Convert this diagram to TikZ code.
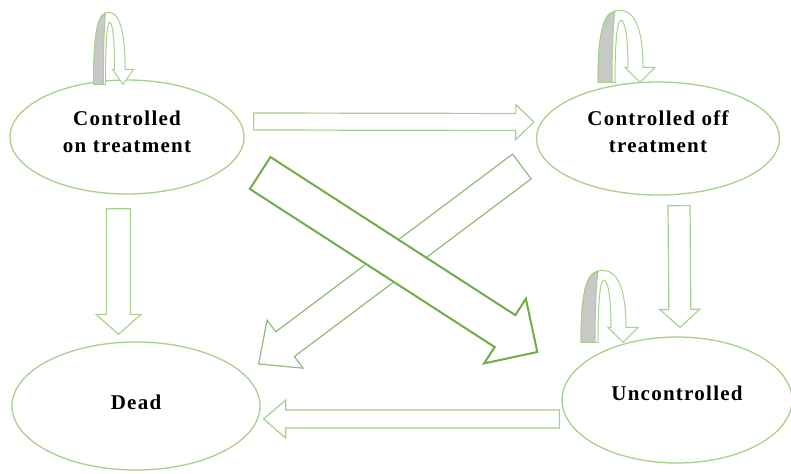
\documentclass[tikz,border=0pt]{standalone}
\usepackage{fontspec}
\setmainfont{Liberation Serif}[LetterSpace=6]
\usetikzlibrary{calc,shapes.geometric}
\definecolor{lightgreen}{RGB}{168,208,141}
\definecolor{darkgreen}{RGB}{112,173,71}
\definecolor{midgreen}{RGB}{146,186,122}
\definecolor{loopgray}{RGB}{200,200,200}

% hollow block arrow: [style]{from}{to}{shaft half width}{head half width}{head length}
\newcommand{\blockarrow}[6][]{%
  \draw[#1] let \p1=(#2), \p2=(#3),
    \n1={atan2(\y2-\y1,\x2-\x1)}, \n2={veclen(\x2-\x1,\y2-\y1)} in
    [shift={(\p1)}, rotate=\n1]
    (0pt,#4) -- ({\n2-#6},#4) -- ({\n2-#6},#5) -- (\n2,0pt)
    -- ({\n2-#6},-#5) -- ({\n2-#6},-#4) -- (0pt,-#4) -- cycle;}

\begin{document}
\begin{tikzpicture}[x=1pt,y=-1pt,
  state/.style={ellipse, draw=lightgreen, line width=1.3pt, inner sep=0pt,
    align=center, font=\fontsize{21}{27}\selectfont\bfseries},
  hollow/.style={draw=lightgreen, line width=1.2pt, fill=white},
  loopline/.style={draw=lightgreen, line width=1pt},
  selfloop/.pic={
    \draw[loopline, fill=white] (-42,0) .. controls (-42,-62) and (-34,-72) .. (-20,-72)
      .. controls (-6,-72) and (3,-55) .. (3,-15) -- (15,-15) -- (0,0) -- (-15,-15) -- (-12,-15)
      .. controls (-12,-45) and (-15,-62) .. (-19,-62)
      .. controls (-23,-62) and (-25,-40) .. (-25,0) -- cycle;
    \draw[loopline, fill=loopgray] (-42,0) .. controls (-42,-55) and (-35,-68) .. (-25,-71)
      .. controls (-27,-58) and (-28,-30) .. (-28,0) -- cycle;
  }]
\useasboundingbox (0,0) rectangle (791,473);

\node[state, minimum width=234, minimum height=114, text depth=11.3pt] (ct) at (127,137) {Controlled\\on treatment};
\node[state, minimum width=243, minimum height=113, text depth=14.3pt] (co) at (658,138.5) {Controlled off\\treatment};
\node[state, minimum width=248, minimum height=128, text depth=7.5pt] (dd) at (136,406) {Dead};
\node[state, minimum width=230, minimum height=126, text depth=13.5pt] (uc) at (677,400) {Uncontrolled};

% transitions
\blockarrow[hollow]{$(ct.east)+(9,-15.5)$}{$(co.west)+(-2,-16.5)$}{8.5pt}{17.5pt}{18pt}
\blockarrow[hollow]{$(ct.south)+(-8.5,14)$}{$(dd.north)+(-17.5,-7)$}{12pt}{22.5pt}{20pt}
\blockarrow[hollow]{$(co.south)+(21,10)$}{$(uc.north)+(3,-9)$}{11pt}{20pt}{18pt}
\blockarrow[hollow]{$(uc.west)+(-2,19)$}{$(dd.east)+(3,13)$}{9pt}{19pt}{22pt}
\blockarrow[hollow, draw=midgreen]{$(co.west)+(-14,28)$}{$(dd.east)+(-2,-42)$}{15.5pt}{30pt}{33pt}
\blockarrow[hollow, draw=darkgreen, line width=2pt]{$(ct.east)+(15.5,36)$}{$(uc.west)+(-24,-48)$}{19pt}{38.5pt}{38.5pt}

% self loops
\pic[xscale=0.7] at ($(ct.north)+(-4,5)$) {selfloop};
\pic at ($(co.north)+(-18,1)$) {selfloop};
\pic at ($(uc.north)+(-54,6)$) {selfloop};
\end{tikzpicture}
\end{document}
